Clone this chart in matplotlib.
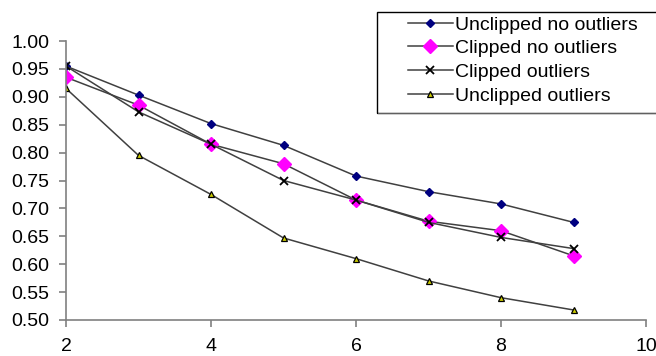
import numpy as np
import matplotlib
matplotlib.use('Agg')
import matplotlib.pyplot as plt
from matplotlib.patches import Rectangle

# Values
x_vals = [2, 3, 4, 5, 6, 7, 8, 9]
unclipped_no_out = [0.955, 0.903, 0.852, 0.813, 0.758, 0.730, 0.708, 0.675]
clipped_no_out = [0.935, 0.885, 0.815, 0.780, 0.715, 0.677, 0.660, 0.615]
clipped_out = [0.955, 0.873, 0.815, 0.750, 0.715, 0.675, 0.648, 0.628]
unclipped_out = [0.915, 0.795, 0.725, 0.647, 0.610, 0.570, 0.540, 0.518]

labels = ['Unclipped no outliers', 'Clipped no outliers', 'Clipped outliers', 'Unclipped outliers']

plt.rcParams['font.family'] = ['Liberation Sans', 'DejaVu Sans']

W, H = 656, 356
fig = plt.figure(figsize=(W / 100, H / 100), dpi=100)
ax = fig.add_axes([66 / W, 1 - 320 / H, 580 / W, 279 / H])

line_c = '#404040'
ax.plot(x_vals, unclipped_no_out, color=line_c, lw=1.1, marker='D', ms=4.5,
        mfc='#000080', mec='#000080', label=labels[0])
ax.plot(x_vals, clipped_no_out, color=line_c, lw=1.1, marker='D', ms=7,
        mfc='#ff00ff', mec='#ff00ff', label=labels[1])
ax.plot(x_vals, clipped_out, color=line_c, lw=1.1, marker='x', ms=5.5,
        mec='black', mew=1.3, label=labels[2])
ax.plot(x_vals, unclipped_out, color=line_c, lw=1.1, marker='^', ms=5,
        mfc='#cccc00', mec='black', mew=0.9, label=labels[3])

ax.set_xlim(2, 10)
ax.set_ylim(0.5, 1.0)
ax.set_xticks([2, 4, 6, 8, 10])
ax.set_yticks(np.arange(0.50, 1.001, 0.05))
ax.yaxis.set_major_formatter(matplotlib.ticker.FormatStrFormatter('%.2f'))

for s in ['top', 'right']:
    ax.spines[s].set_visible(False)
for s in ['left', 'bottom']:
    ax.spines[s].set_color('#808080')
    ax.spines[s].set_linewidth(1.2)

ax.tick_params(axis='y', direction='out', length=5, width=1.2, color='#808080',
               labelsize=14, pad=7)
ax.tick_params(axis='x', direction='out', length=5, width=1.2, color='#808080',
               labelsize=14, pad=8)

# legend text without frame, frame drawn as a box in figure pixels
leg = ax.legend(loc='upper left', bbox_to_anchor=(408 / W, 1 - 16 / H),
                bbox_transform=fig.transFigure, fontsize=14, frameon=False,
                handlelength=2.3, handletextpad=0.1, labelspacing=0.31,
                borderpad=0, borderaxespad=0)
fig.patches.append(Rectangle((377 / W, 1 - 113 / H), 290 / W, 101 / H,
                             transform=fig.transFigure, fill=False,
                             edgecolor='black', linewidth=1.0))
fig.patches.append(Rectangle((378 / W, 1 - 114.5 / H), 290 / W, 1.2 / H,
                             transform=fig.transFigure, facecolor='#606060',
                             edgecolor='none'))

fig.savefig('out.png', dpi=100)
